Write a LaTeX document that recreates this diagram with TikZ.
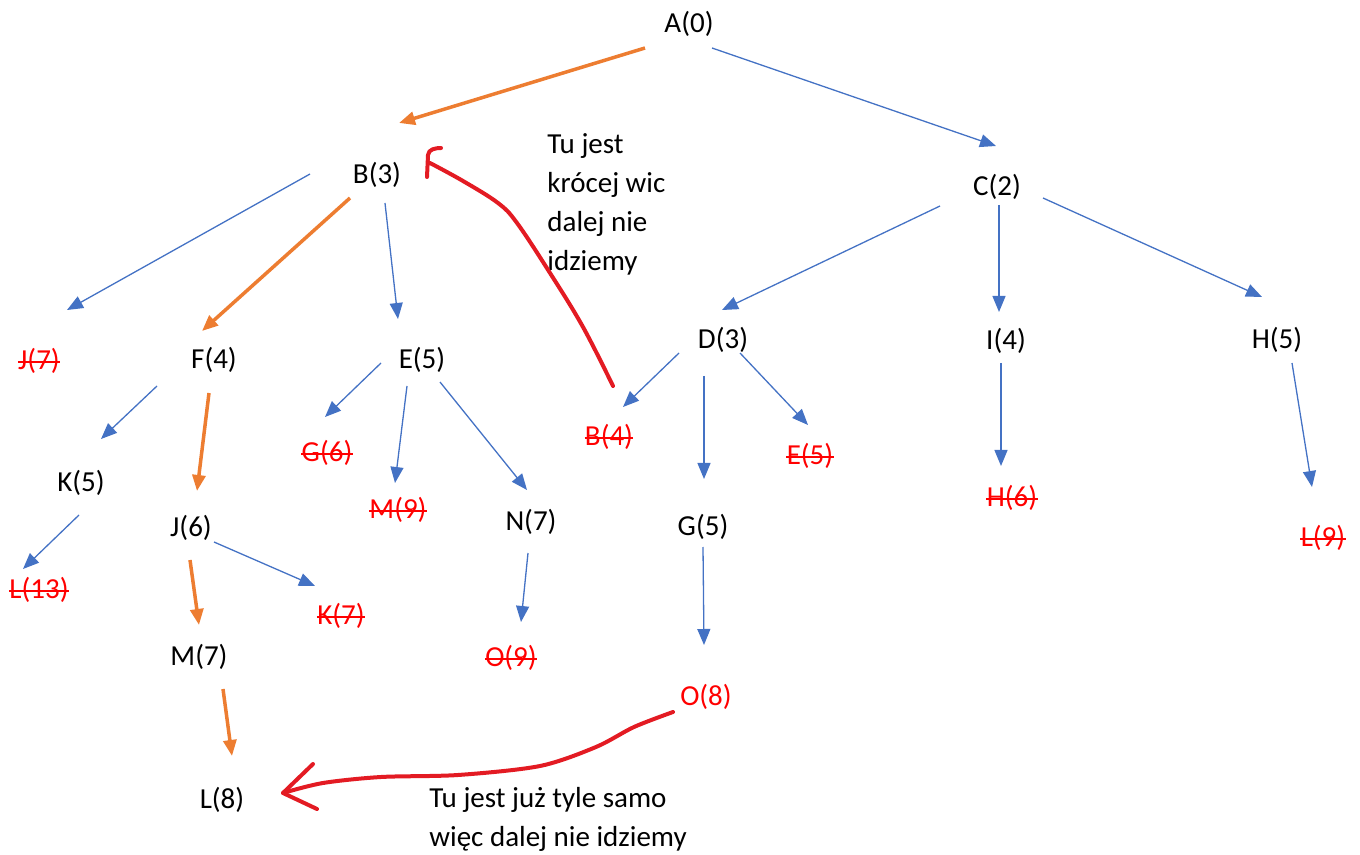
\documentclass[tikz,border=0pt]{standalone}
\usepackage{fontspec}
\setmainfont{Carlito}
\usetikzlibrary{arrows.meta}

\definecolor{edgeblue}{HTML}{4472C4}
\definecolor{pathorange}{HTML}{ED7D31}
\definecolor{marker}{HTML}{E31B23}
\definecolor{cut}{HTML}{FF0000}

\tikzset{
  state/.style={inner sep=0pt, font=\fontsize{14.5}{17.5}\selectfont, text=black},
  pruned/.style={state, text=cut,
    append after command={\pgfextra{\draw[cut, line width=0.9pt]
      ([yshift=3.7pt]\tikzlastnode.base west) -- ([yshift=3.7pt]\tikzlastnode.base east);}}},
  reached/.style={state, text=cut},
  note/.style={inner sep=0pt, align=left, anchor=west, font=\fontsize{14.5}{19.5}\selectfont},
  edge/.style={draw=edgeblue, line width=0.65pt, -{Triangle[length=8pt,width=6.5pt,fill=edgeblue]}},
  best/.style={draw=pathorange, line width=1.75pt, -{Triangle[length=8pt,width=6.5pt,fill=pathorange]}},
  pen/.style={draw=marker, line width=2pt, line cap=round, line join=round}
}

\begin{document}
\begin{tikzpicture}[x=0.5pt, y=-0.5pt]
\useasboundingbox (0,0) rectangle (1360,855);

% search tree nodes
\node[state]  (A)   at (689,24)   {A(0)};
\node[state]  (B)   at (377,175)  {B(3)};
\node[state]  (C)   at (997,187)  {C(2)};
\node[pruned] (J7)  at (39,361)   {J(7)};
\node[state]  (F)   at (214,360)  {F(4)};
\node[state]  (E)   at (422,360)  {E(5)};
\node[state]  (D)   at (723,340)  {D(3)};
\node[state]  (I)   at (1006,341) {I(4)};
\node[state]  (H)   at (1277,340) {H(5)};
\node[state]  (K5)  at (81,483)   {K(5)};
\node[pruned] (G6)  at (327,453)  {G(6)};
\node[pruned] (M9)  at (398,510)  {M(9)};
\node[state]  (N7)  at (531,522)  {N(7)};
\node[pruned] (B4)  at (609,437)  {B(4)};
\node[pruned] (E5)  at (810,456)  {E(5)};
\node[pruned] (H6)  at (1012,498) {H(6)};
\node[pruned] (L9)  at (1323,538) {L(9)};
\node[state]  (J6)  at (191,528)  {J(6)};
\node[pruned] (L13) at (39,590)   {L(13)};
\node[pruned] (K7)  at (341,616)  {K(7)};
\node[pruned] (O9)  at (511,658)  {O(9)};
\node[state]  (G5)  at (703,527)  {G(5)};
\node[state]  (M7)  at (199,657)  {M(7)};
\node[reached](O8)  at (706,697)  {O(8)};
\node[state]  (L8)  at (222,800)  {L(8)};

% annotations
\node[note] (note1) at (547,204) {Tu jest\\krócej wic\\dalej nie\\idziemy};
\node[note] (note2) at (429,819) {Tu jest już tyle samo\\więc dalej nie idziemy};

% chosen path
\draw[best] ([shift={(-44,24)}]A.center)  -- ([shift={(22,-52)}]B.center);
\draw[best] ([shift={(-27,23)}]B.center)  -- ([shift={(-12,-29)}]F.center);
\draw[best] ([shift={(-5,33)}]F.center)   -- ([shift={(6,-37)}]J6.center);
\draw[best] ([shift={(-1,32)}]J6.center)  -- ([shift={(0,-32)}]M7.center);
\draw[best] ([shift={(24,32)}]M7.center)  -- ([shift={(10,-44)}]L8.center);

% other expansions
\draw[edge] ([shift={(23,24)}]A.center)   -- ([shift={(-1,-41)}]C.center);
\draw[edge] ([shift={(-67,-1)}]B.center)  -- ([shift={(28,-51)}]J7.center);
\draw[edge] ([shift={(8,28)}]B.center)    -- ([shift={(-24,-41)}]E.center);
\draw[edge] ([shift={(-57,19)}]C.center)  -- ([shift={(-1,-30)}]D.center);
\draw[edge] ([shift={(2,18)}]C.center)    -- ([shift={(-7,-29)}]I.center);
\draw[edge] ([shift={(46,11)}]C.center)   -- ([shift={(-15,-43)}]H.center);
\draw[edge] ([shift={(-57,26)}]F.center)  -- ([shift={(20,-44)}]K5.center);
\draw[edge] ([shift={(-41,3)}]E.center)   -- ([shift={(-2,-36)}]G6.center);
\draw[edge] ([shift={(-15,26)}]E.center)  -- ([shift={(-3,-27)}]M9.center);
\draw[edge] ([shift={(18,22)}]E.center)   -- ([shift={(-4,-32)}]N7.center);
\draw[edge] ([shift={(-44,13)}]D.center)  -- ([shift={(14,-30)}]B4.center);
\draw[edge] ([shift={(-19,36)}]D.center)  -- ([shift={(1,-48)}]G5.center);
\draw[edge] ([shift={(17,13)}]D.center)   -- ([shift={(-2,-31)}]E5.center);
\draw[edge] ([shift={(-5,22)}]I.center)   -- ([shift={(-11,-32)}]H6.center);
\draw[edge] ([shift={(15,23)}]H.center)   -- ([shift={(-11,-51)}]L9.center);
\draw[edge] ([shift={(-2,32)}]K5.center)  -- ([shift={(-16,-21)}]L13.center);
\draw[edge] ([shift={(23,14)}]J6.center)  -- ([shift={(-26,-30)}]K7.center);
\draw[edge] ([shift={(-3,31)}]N7.center)  -- ([shift={(10,-36)}]O9.center);
\draw[edge] ([shift={(0,20)}]G5.center)   -- ([shift={(-2,-52)}]O8.center);

% hand-drawn remarks
\draw[pen] plot[smooth, tension=0.6] coordinates {([shift={(4,-51)}]B4.center) (583,327) (550,273) (517,223) (498,203) (463,181) ([shift={(53,-12)}]B.center)};
\draw[pen] ([shift={(50,2)}]B.center) -- ([shift={(51,-20)}]B.center) to[out=85,in=180] ([shift={(64,-27)}]B.center);

\draw[pen] plot[smooth, tension=0.5] coordinates {([shift={(-33,15)}]O8.center) (634,727) (596,747) (540,766) (458,775) (381,777) (323,783) ([shift={(61,-7)}]L8.center)};
\draw[pen] ([shift={(91,-36)}]L8.center) -- ([shift={(61,-7)}]L8.center) -- ([shift={(95,9)}]L8.center);
\end{tikzpicture}
\end{document}
